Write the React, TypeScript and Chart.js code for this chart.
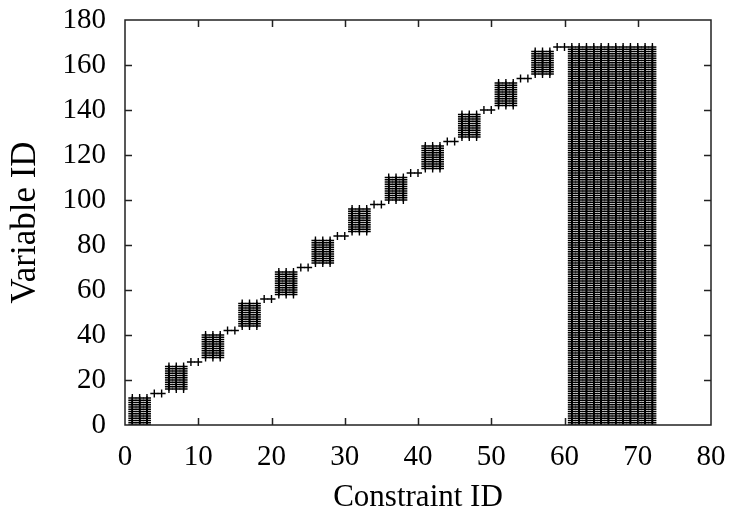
import React, { useEffect, useRef } from "react";
import { Chart, registerables } from "chart.js";

Chart.register(...registerables);

// Sparsity pattern (constraint ID on x, variable ID on y)
const blockCols: number[][] = [
  [1, 2, 3], [6, 7, 8], [11, 12, 13], [16, 17, 18], [21, 22, 23], [26, 27, 28],
  [31, 32, 33], [36, 37, 38], [41, 42, 43], [46, 47, 48], [51, 52, 53], [56, 57, 58],
];
const blockRowFirst: number[] = [0, 16, 30, 44, 58, 72, 86, 100, 114, 128, 142, 156];
const blockRowLast: number[] = [12, 26, 40, 54, 68, 82, 96, 110, 124, 138, 152, 166];

const linkCols: number[][] = [
  [4, 5], [9, 10], [14, 15], [19, 20], [24, 25], [29, 30],
  [34, 35], [39, 40], [44, 45], [49, 50], [54, 55], [59, 60],
];
const linkRows: number[] = [14, 28, 42, 56, 70, 84, 98, 112, 126, 140, 154, 168];

const denseCols: number[] = [61, 62, 63, 64, 65, 66, 67, 68, 69, 70, 71, 72];
const denseRowFirst = 0;
const denseRowLast = 168;

const FONT = '"Liberation Serif", "Times New Roman", serif';

function buildPoints() {
  const pts: { x: number; y: number }[] = [];
  blockCols.forEach((cols, i) => {
    for (let r = blockRowFirst[i]; r <= blockRowLast[i]; r++) {
      cols.forEach((c) => pts.push({ x: c, y: r }));
    }
  });
  linkCols.forEach((cols, i) => {
    cols.forEach((c) => pts.push({ x: c, y: linkRows[i] }));
  });
  for (let r = denseRowFirst; r <= denseRowLast; r++) {
    denseCols.forEach((c) => pts.push({ x: c, y: r }));
  }
  return pts;
}

const framePlugin = {
  id: "frame",
  afterDatasetsDraw(chart: any) {
    const { ctx, chartArea } = chart;
    const { left, right, top, bottom } = chartArea;
    const xs = chart.scales.x;
    const ys = chart.scales.y;
    const tl = 7;
    ctx.save();
    ctx.strokeStyle = "#222";
    ctx.lineWidth = 1.5;
    ctx.beginPath();
    xs.ticks.forEach((t: any) => {
      if (t.value <= xs.min || t.value >= xs.max) return;
      const px = Math.round(xs.getPixelForValue(t.value)) + 0.5;
      ctx.moveTo(px, bottom);
      ctx.lineTo(px, bottom - tl);
      ctx.moveTo(px, top);
      ctx.lineTo(px, top + tl);
    });
    ys.ticks.forEach((t: any) => {
      if (t.value <= ys.min || t.value >= ys.max) return;
      const py = Math.round(ys.getPixelForValue(t.value)) + 0.5;
      ctx.moveTo(left, py);
      ctx.lineTo(left + tl, py);
      ctx.moveTo(right, py);
      ctx.lineTo(right - tl, py);
    });
    ctx.stroke();
    ctx.strokeRect(left, top, right - left, bottom - top);
    ctx.restore();
  },
};

export default function App() {
  const ref = useRef<HTMLCanvasElement>(null);
  useEffect(() => {
    if (!ref.current) return;
    const chart = new Chart(ref.current, {
      type: "scatter",
      data: {
        datasets: [
          {
            data: buildPoints(),
            pointStyle: "cross",
            pointRadius: 4,
            borderColor: "#000",
            backgroundColor: "#000",
            borderWidth: 1.4,
            clip: 0,
          } as any,
        ],
      },
      options: {
        responsive: false,
        animation: false,
        devicePixelRatio: 1,
        events: [],
        layout: { padding: { top: 20, right: 23, left: 0, bottom: 0 } },
        plugins: { legend: { display: false }, tooltip: { enabled: false } },
        scales: {
          x: {
            type: "linear",
            min: 0,
            max: 80,
            ticks: { stepSize: 10, color: "#000", font: { family: FONT, size: 29 }, padding: 15 },
            grid: { display: false, drawTicks: false },
            border: { display: false },
            title: {
              display: true,
              text: "Constraint ID",
              color: "#000",
              font: { family: FONT, size: 31 },
              padding: { top: 0, bottom: 4 },
            },
            afterFit: (s: any) => {
              s.height = 95;
              s.paddingLeft = 0;
              s.paddingRight = 0;
            },
          },
          y: {
            type: "linear",
            min: 0,
            max: 180,
            ticks: { stepSize: 20, color: "#000", font: { family: FONT, size: 29 }, padding: 19 },
            grid: { display: false, drawTicks: false },
            border: { display: false },
            title: {
              display: true,
              text: "Variable ID",
              color: "#000",
              font: { family: FONT, size: 35 },
              padding: { top: 5, bottom: 0 },
            },
            afterFit: (s: any) => {
              s.width = 125;
              s.paddingTop = 0;
              s.paddingBottom = 0;
            },
          },
        },
      },
      plugins: [framePlugin],
    });
    return () => chart.destroy();
  }, []);
  return (
    <div style={{ position: "fixed", left: 0, top: 0, width: 734, height: 520, background: "#fff" }}>
      <canvas ref={ref} width={734} height={520} style={{ display: "block" }} />
    </div>
  );
}
